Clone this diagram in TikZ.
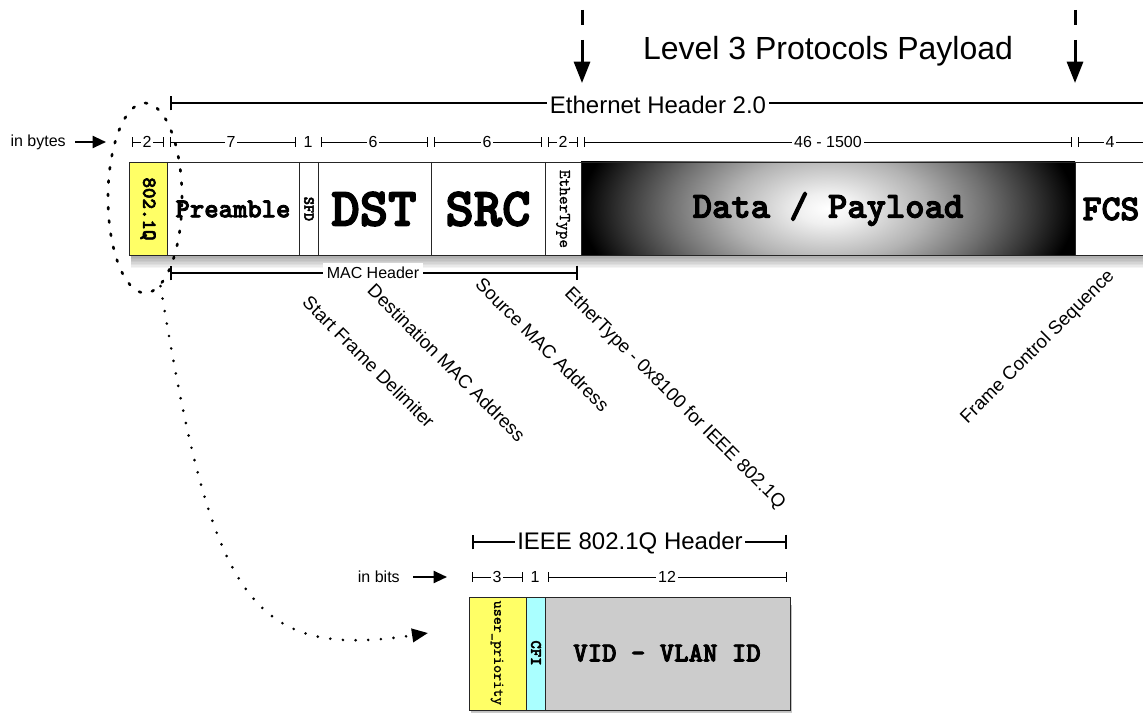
\documentclass[tikz,border=0pt]{standalone}
\usepackage{fontspec}
\setmainfont{Liberation Sans}
\newfontfamily\courb[FakeBold=3]{lmmonolt10-bold.otf}
\newfontfamily\courm[FakeBold=1]{lmmono10-regular.otf}
\usetikzlibrary{arrows.meta,shapes.geometric}
\newcommand\myfs[1]{\fontsize{#1}{#1}\selectfont}
\pgfdeclareradialshading{datashade}{\pgfpoint{0bp}{0bp}}{color(0bp)=(white); color(3bp)=(black!6); color(10bp)=(black!30); color(16bp)=(black!56); color(21bp)=(black!80); color(25bp)=(black); color(50bp)=(black)}
\definecolor{qyellow}{RGB}{255,255,102}
\definecolor{qcyan}{RGB}{170,255,255}
\definecolor{qgrey}{RGB}{204,204,204}
\begin{document}
\begin{tikzpicture}[x=0.75pt,y=-0.75pt,
  seg/.style={line width=0.6pt, {Bar[width=7pt]}-{Bar[width=7pt]}},
  seglbl/.style={fill=white, inner sep=1.5pt, font=\myfs{12pt}},
  hdr/.style={line width=1.5pt, {Bar[width=11pt]}-{Bar[width=11pt]}},
  hdrleft/.style={line width=1.5pt, {Bar[width=11pt]}-},
  hdrlbl/.style={fill=white, inner sep=2pt},
  cellline/.style={line width=0.7pt, draw=black!85},
  mono/.style={font=\courb\myfs{#1}, inner sep=0pt},
  monolight/.style={font=\courm\myfs{#1}, inner sep=0pt},
  diag/.style={font=\myfs{14pt}, anchor=west, inner sep=0pt},
  bigarrow/.style={line width=1.5pt, -{Triangle[length=10pt,width=9pt]}},
  downarrow/.style={line width=2.25pt, -{Triangle[length=16pt,width=12pt]}},
  dashpiece/.style={line width=2.25pt},
  dotline/.style={line width=2.2pt, line cap=round, dash pattern=on 0pt off 9.5pt, -{Triangle[length=12pt,width=10pt]}},
]
\useasboundingbox (0,0) rectangle (1143,713);
\clip (0,0) rectangle (1143,713);
\fill[white] (0,0) rectangle (1143,713);

% ---- Level 3 payload markers
\node[font=\myfs{24pt}] (lvl) at (828,51) {Level 3 Protocols Payload};
\coordinate (la) at (582,10); \coordinate (lb) at (582,25);
\coordinate (lc) at (582,40); \coordinate (ld) at (582,83);
\coordinate (ra) at (1075,10); \coordinate (rb) at (1075,25);
\coordinate (rc) at (1075,40); \coordinate (rd) at (1075,83);
\draw[dashpiece] (la) -- (lb);
\draw[downarrow] (lc) -- (ld);
\draw[dashpiece] (ra) -- (rb);
\draw[downarrow] (rc) -- (rd);

% ---- Ethernet header line
\coordinate (ethL) at (170,103); \coordinate (ethR) at (1160,103);
\draw[hdrleft] (ethL) -- (ethR);
\node[hdrlbl, font=\myfs{18pt}] (eth) at (658,105) {Ethernet Header 2.0};

% ---- byte sizes row
\node[font=\myfs{12pt}, anchor=east, inner sep=0pt] (inbytes) at (66,142) {in bytes};
\coordinate (bytestip) at (106,142);
\draw[bigarrow] ([xshift=7pt]inbytes.east) -- (bytestip);
\draw[seg] (132,142) -- (164,142); \node[seglbl] (s1) at (147,142) {2};
\draw[seg] (170,142) -- (296,142); \node[seglbl] (s2) at (231,142) {7};
\node[seglbl] (s3) at (308,142) {1};
\draw[seg] (321,142) -- (428,142); \node[seglbl] (s4) at (373,142) {6};
\draw[seg] (434,142) -- (542,142); \node[seglbl] (s5) at (487,142) {6};
\draw[seg] (548,142) -- (578,142); \node[seglbl] (s6) at (563,142) {2};
\draw[seg] (584,142) -- (1072,142); \node[seglbl] (s7) at (828,142) {46 - 1500};
\draw[seg] (1078,142) -- (1180,142); \node[seglbl] (s8) at (1110,142) {4};

% ---- frame shadow
\foreach \d in {1.5,3,...,13.5} \fill[black, opacity=0.045] (131,170) rectangle (1160,255+\d);

% ---- frame cells
\fill[qyellow] (129,162) rectangle (167,255);
\fill[white] (167,162) rectangle (581,255);
\begin{scope}
  \clip (581,162) rectangle (1075,255);
  \shade[shading=datashade] (581,78) rectangle (1075,339);
\end{scope}
\fill[white] (1075,162) rectangle (1160,255);
\foreach \x in {167,299,318,431,545,581,1075} \draw[cellline] (\x,162) -- (\x,255);
\draw[cellline] (129,162) rectangle (1160,255);

\node[mono=15pt, rotate=-90] (tag) at (148,209) {802.1Q};
\node[mono=20.5pt] (pre) at (233,209) {Preamble};
\node[mono=11.5pt, rotate=-90] (sfd) at (309,209) {SFD};
\node[mono=40.5pt] (dst) at (374,209) {DST};
\node[mono=40.5pt] (src) at (488,209) {SRC};
\node[monolight=12.4pt, rotate=-90] (etype) at (563,209) {EtherType};
\node[mono=27.6pt] (data) at (828,209) {Data / Payload};
\node[mono=27pt] (fcs) at (1111,209) {FCS};

% ---- MAC header
\coordinate (macL) at (170,273); \coordinate (macR) at (578,273);
\draw[hdr] (macL) -- (macR);
\node[hdrlbl, font=\myfs{12pt}, inner sep=3pt] (mac) at (373,273) {MAC Header};

% ---- diagonal labels
\node[diag, rotate=-45] (lsfd) at (306,299) {Start Frame Delimiter};
\node[diag, rotate=-45] (ldst) at (371,287) {Destination MAC Address};
\node[diag, rotate=-45] (lsrc) at (479,281) {Source MAC Address};
\node[diag, rotate=-45] (letype) at (567,291) {EtherType - 0x8100 for IEEE 802.1Q};
\node[diag, rotate=45] (lfcs) at (964,421) {Frame Control Sequence};

% ---- dotted ring and connector
\node[ellipse, draw, line width=2pt, line cap=round, dash pattern=on 1.5pt off 8.5pt, minimum width=55.5pt, minimum height=142.5pt, inner sep=0pt] (tagring) at (145,198) {};
\coordinate (tagarrow) at (428,633);
\draw[dotline] (tagring.-80) .. controls (212,600) and (250,660) .. (tagarrow);

% ---- IEEE 802.1Q header
\coordinate (qL) at (472,542); \coordinate (qR) at (787,542);
\draw[hdr] (qL) -- (qR);
\node[hdrlbl, font=\myfs{18pt}] (qhdr) at (630,543) {IEEE 802.1Q Header};

\node[font=\myfs{12pt}, anchor=east, inner sep=0pt] (inbits) at (400,577) {in bits};
\coordinate (bitstip) at (447,577);
\draw[bigarrow] ([xshift=10pt]inbits.east) -- (bitstip);
\draw[seg] (472,577) -- (523,577); \node[seglbl] (b1) at (497,577) {3};
\node[seglbl] (b2) at (535,577) {1};
\draw[seg] (548,577) -- (787,577); \node[seglbl] (b3) at (667,577) {12};

\foreach \d in {1.5,3,...,9} \fill[black, opacity=0.045] (471,605) rectangle (792,710+\d);
\fill[qyellow] (469,597) rectangle (526,710);
\fill[qcyan] (526,597) rectangle (545,710);
\fill[qgrey] (545,597) rectangle (790,710);
\foreach \x in {526,545} \draw[cellline] (\x,597) -- (\x,710);
\draw[cellline] (469,597) rectangle (790,710);
\node[monolight=11.5pt, rotate=-90] (prio) at (497,653) {user\_priority};
\node[mono=12pt, rotate=-90] (cfi) at (536,653) {CFI};
\node[mono=20.6pt] (vid) at (667,653) {VID - VLAN ID};
\end{tikzpicture}
\end{document}
